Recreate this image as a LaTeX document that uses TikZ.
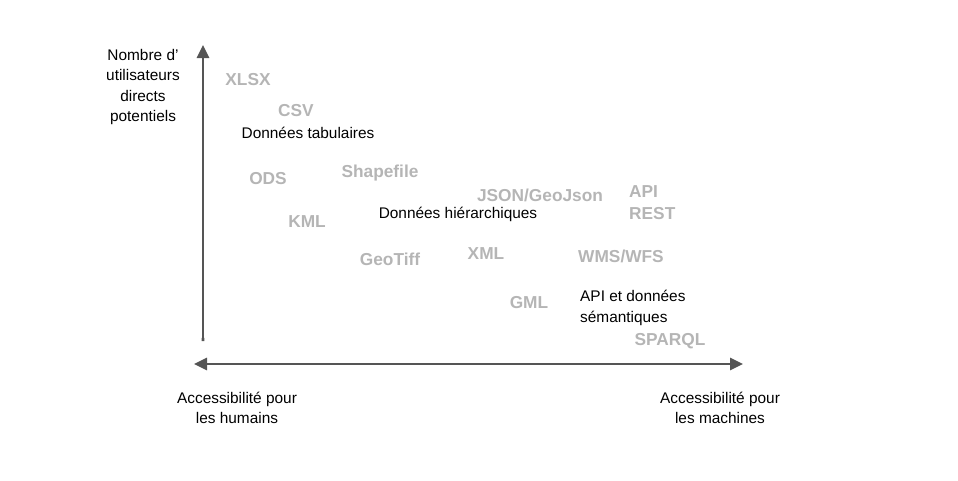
\documentclass[tikz,border=0pt]{standalone}
\usepackage{fontspec}
\setmainfont{Liberation Sans}
\usetikzlibrary{arrows.meta}
\definecolor{fmtgrey}{HTML}{B5B5B5}
\definecolor{axisgrey}{HTML}{555555}

\begin{document}
\begin{tikzpicture}[x=1pt,y=-1pt,
    fmt/.style={text=fmtgrey,font=\fontsize{17.3}{22}\selectfont\bfseries,inner sep=0pt},
    cat/.style={font=\fontsize{15.4}{20.5}\selectfont,inner sep=0pt},
    axislbl/.style={cat,align=center},
    axis/.style={draw=axisgrey,line width=2.6pt,{Triangle[length=13pt,width=12pt]}-{Triangle[length=13pt,width=12pt]}}]
    \useasboundingbox (0,0) rectangle (958,480);
    % axes
    \coordinate (yb) at (203,341);
    \coordinate (yt) at (203,45);
    \coordinate (xl) at (194,364);
    \coordinate (xr) at (743,364);
    \draw[axis,{Butt Cap}-{Triangle[length=13pt,width=12pt]}] (yb) -- (yt);
    \draw[axis] (xl) -- (xr);
    % axis labels
    \node[axislbl] (ylbl) at (143,87) {Nombre d'\\utilisateurs\\directs\\potentiels};
    \node[axislbl] (xlbll) at (237,408) {Accessibilité pour\\les humains};
    \node[axislbl] (xlblr) at (720,408) {Accessibilité pour\\les machines};
    % categories
    \node[cat] (tab) at (308,133) {Données tabulaires};
    \node[cat] (hier) at (458,214) {Données hiérarchiques};
    \node[cat,align=left,anchor=west] (sem) at (580,308) {API et données\\sémantiques};
    % formats
    \node[fmt] (xlsx) at (248,80) {XLSX};
    \node[fmt] (csv) at (296,111) {CSV};
    \node[fmt] (ods) at (268,179) {ODS};
    \node[fmt] (shp) at (380,173) {Shapefile};
    \node[fmt] (json) at (540,195) {JSON/GeoJson};
    \node[fmt,align=left,anchor=west] (rest) at (629,203) {API\\REST};
    \node[fmt] (kml) at (307,222) {KML};
    \node[fmt] (tiff) at (390,259) {GeoTiff};
    \node[fmt] (xml) at (486,254) {XML};
    \node[fmt] (wms) at (621,256) {WMS/WFS};
    \node[fmt] (gml) at (529,303) {GML};
    \node[fmt] (sparql) at (670,341) {SPARQL};
\end{tikzpicture}
\end{document}
